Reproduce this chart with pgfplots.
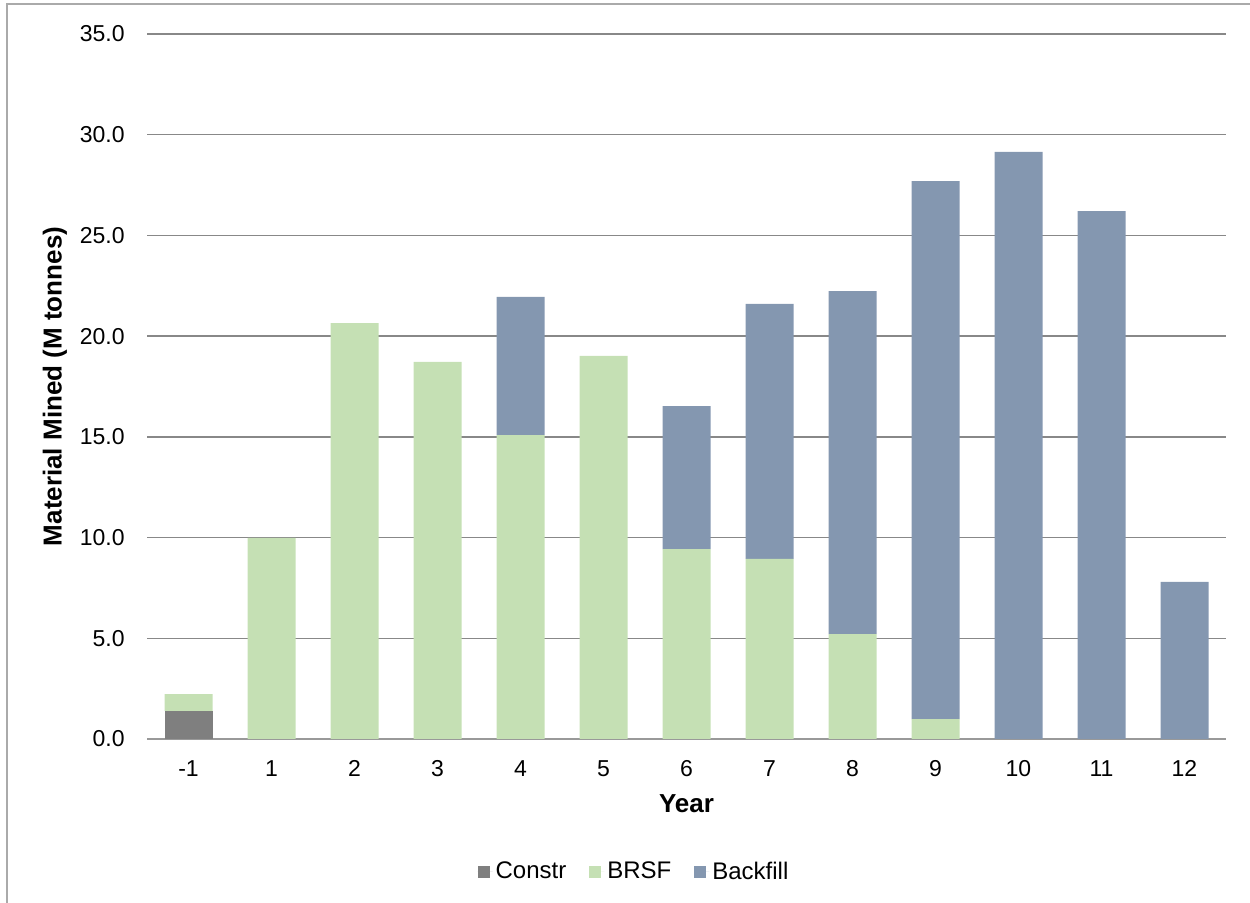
\documentclass[border=0pt]{standalone}
\usepackage{pgfplots}
\pgfplotsset{compat=1.18}
\usepackage{fontspec}
\setmainfont{Liberation Sans}
\definecolor{constr}{HTML}{7F7F7F}
\definecolor{brsf}{HTML}{C5E0B4}
\definecolor{backfill}{HTML}{8497B0}
\definecolor{gridgray}{HTML}{888888}
\definecolor{framegray}{HTML}{AAAAAA}
\definecolor{axisgray}{HTML}{999999}
\begin{document}
\begin{tikzpicture}
\useasboundingbox (0pt,0pt) rectangle (625pt,451.5pt);
\draw[framegray, line width=1pt] (3.5pt,0pt) -- (3.5pt,449.5pt) -- (625pt,449.5pt);
\begin{axis}[
  at={(73.5pt,82pt)}, anchor=south west,
  scale only axis, width=539.5pt, height=352.5pt,
  xmin=-0.5, xmax=12.5, ymin=0, ymax=35,
  ytick={0,5,...,35},
  xtick={0,...,12},
  xticklabels={-1,1,2,3,4,5,6,7,8,9,10,11,12},
  yticklabel={\pgfmathprintnumber[fixed,fixed zerofill,precision=1]{\tick}},
  /pgf/number format/assume math mode=true,
  ymajorgrids, grid style={gridgray, line width=0.75pt},
  axis x line*=bottom, axis y line*=left,
  x axis line style={-, axisgray, line width=1pt},
  y axis line style={draw=none},
  major tick length=0pt, tick style={draw=none},
  tick label style={font=\fontsize{11.5}{13}\selectfont, text=black},
  yticklabel style={anchor=east, inner sep=0pt, xshift=-11pt},
  xticklabel style={anchor=north, inner sep=0pt, yshift=-10.5pt},
  ylabel={Material Mined (M tonnes)},
  xlabel={Year},
  every axis y label/.style={at={([xshift=-46pt]axis description cs:0,0.5)}, rotate=90, anchor=center, font=\bfseries\fontsize{13}{15}\selectfont},
  every axis x label/.style={at={([yshift=-32.5pt]axis description cs:0.5,0)}, anchor=center, font=\bfseries\fontsize{13}{15}\selectfont},
  ybar stacked, bar width=24pt,
  legend columns=3,
  legend style={at={([xshift=-26pt,yshift=-66.5pt]axis description cs:0.5,0)}, anchor=center, draw=none,
    font=\fontsize{12}{14}\selectfont,
    /tikz/every even column/.append style={column sep=10pt},
    nodes={inner sep=1.5pt}},
  legend image code/.code={\fill[#1] (0pt,-3pt) rectangle (6pt,3pt); \path (0pt,0pt) -- (7.5pt,0pt);},
]
\addplot[fill=constr, draw=none] coordinates {(0,1.4) (1,0) (2,0) (3,0) (4,0) (5,0) (6,0) (7,0) (8,0) (9,0) (10,0) (11,0) (12,0)};
\addplot[fill=brsf, draw=none] coordinates {(0,0.83) (1,9.98) (2,20.65) (3,18.72) (4,15.09) (5,19.02) (6,9.43) (7,8.94) (8,5.21) (9,0.99) (10,0) (11,0) (12,0)};
\addplot[fill=backfill, draw=none] coordinates {(0,0) (1,0) (2,0) (3,0) (4,6.86) (5,0) (6,7.10) (7,12.66) (8,17.03) (9,26.71) (10,29.15) (11,26.2) (12,7.8)};
\legend{Constr, BRSF, Backfill}
\end{axis}
\end{tikzpicture}
\end{document}
